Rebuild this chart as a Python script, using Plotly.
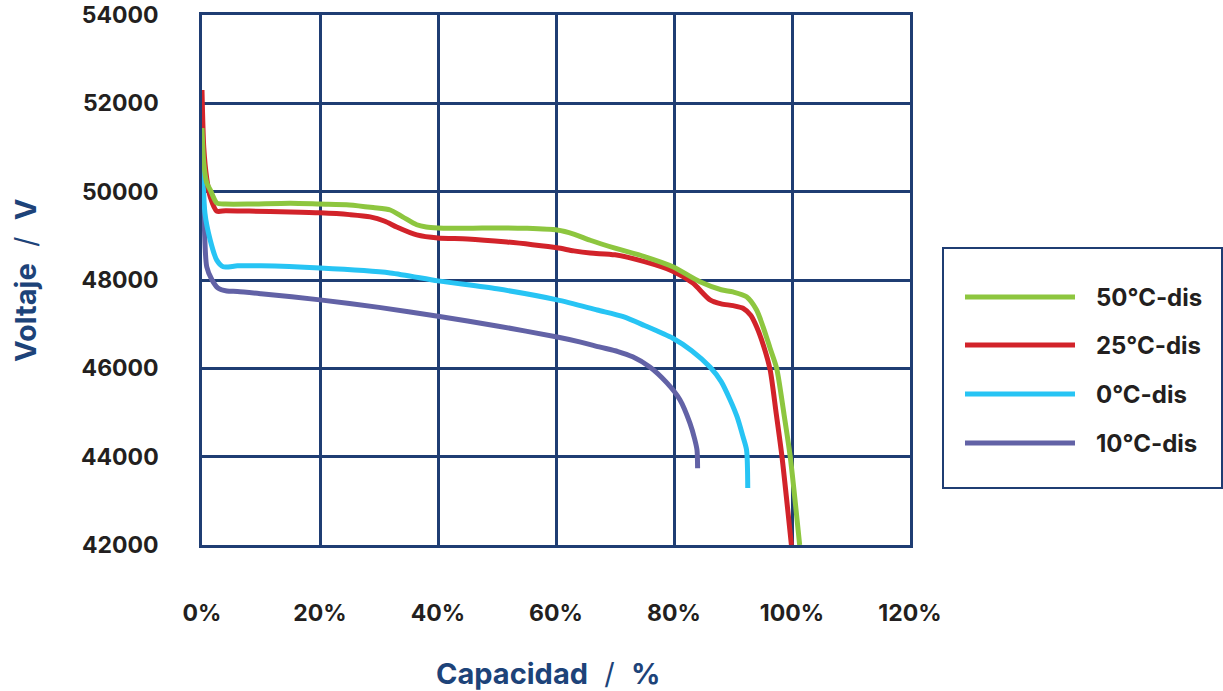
import plotly.graph_objects as go

# ---- data ----
cap_50 = [0, 0.3, 0.8, 1.4, 2.5, 4, 8, 15, 20, 25, 29, 31.9, 34, 36.4, 38, 40, 45, 50, 55, 60.2, 63, 65.8,
          70, 75, 79.8, 84.4, 88, 90, 92.3, 94, 95.1, 96.3, 97.4, 98.6, 99.7, 101.3]
v_50 = [51440, 50650, 50200, 50040, 49744, 49720, 49720, 49740, 49720, 49700, 49640, 49585, 49430, 49250,
        49200, 49180, 49170, 49180, 49170, 49130, 49040, 48900, 48720, 48530, 48300, 47960, 47780, 47730,
        47620, 47320, 46940, 46450, 46000, 45000, 44000, 42000]

cap_25 = [0, 0.3, 0.8, 1.4, 2.5, 4, 8, 15, 20, 25, 28.5, 31, 33, 36.4, 40, 45, 51.7, 56, 60.2, 63, 65.8,
          70, 75, 79.8, 83.2, 86.1, 88, 90, 91.7, 93, 94, 95.2, 96.3, 97.3, 98.3, 99.9]
v_25 = [52300, 51000, 50300, 49880, 49560, 49570, 49560, 49540, 49520, 49480, 49430, 49330, 49200, 49020,
        48950, 48930, 48860, 48800, 48730, 48660, 48610, 48570, 48415, 48200, 47930, 47550, 47460, 47420,
        47360, 47200, 46940, 46500, 45960, 45000, 44000, 42000]

cap_0 = [0, 0.5, 1.4, 2.5, 3.6, 6, 10, 20, 31.9, 40, 50, 60.2, 67, 71.4, 75, 79.8, 83, 86.1, 88, 89.5,
         90.7, 91.7, 92.3, 92.5]
v_0 = [51400, 49510, 48900, 48450, 48300, 48320, 48320, 48270, 48160, 47980, 47800, 47550, 47320, 47170,
       46970, 46680, 46400, 46030, 45700, 45290, 44900, 44450, 44150, 43290]

cap_10 = [0, 0.4, 0.8, 1.7, 2.7, 4.2, 6, 10, 20, 30, 40, 50, 60.2, 64, 67.5, 70.5, 73, 75.9, 78.8, 81,
          82.7, 83.5, 83.9, 84.0]
v_10 = [50600, 49200, 48300, 48000, 47820, 47750, 47740, 47690, 47550, 47380, 47180, 46960, 46710, 46600,
        46480, 46380, 46260, 46030, 45670, 45290, 44760, 44400, 44150, 43740]

series_names = ["50°C-dis", "25°C-dis", "0°C-dis", "10°C-dis"]
series_colors = ["#8dc63f", "#d2232a", "#27c4f4", "#6262a6"]
series_x = [cap_50, cap_25, cap_0, cap_10]
series_y = [v_50, v_25, v_0, v_10]

x_ticks = [0, 20, 40, 60, 80, 100, 120]
x_tick_labels = ["0%", "20%", "40%", "60%", "80%", "100%", "120%"]
y_ticks = [42000, 44000, 46000, 48000, 50000, 52000, 54000]

GRID = "#1f3d73"
TXT = "#231f20"
NAVY = "#1d4379"
FONT = "Inter"

fig = go.Figure()
for name, color, xs, ys in reversed(list(zip(series_names, series_colors, series_x, series_y))):
    fig.add_trace(go.Scatter(x=xs, y=ys, mode="lines", name=name,
                             line=dict(color=color, width=5, shape="spline", smoothing=0.7),
                             showlegend=False))

W, H = 1223, 691
L, R, T, B = 202, 910, 15, 545
pw, ph = R - L, B - T

def px(x):
    return (x - L) / pw

def py(y):
    return (B - y) / ph

shapes = [dict(type="rect", xref="paper", yref="paper", x0=px(943), x1=px(1222), y0=py(488), y1=py(248),
               line=dict(color=GRID, width=2), fillcolor="white", layer="above")]
annotations = []
leg_y = [297, 345, 394, 443]
for name, color, ly in zip(series_names, series_colors, leg_y):
    shapes.append(dict(type="line", xref="paper", yref="paper", x0=px(965), x1=px(1075), y0=py(ly), y1=py(ly),
                       line=dict(color=color, width=5), layer="above"))
    annotations.append(dict(xref="paper", yref="paper", x=px(1094), y=py(ly), text="<b>%s</b>" % name,
                            showarrow=False, xanchor="left", yanchor="middle",
                            font=dict(family=FONT, size=24, color=TXT)))

annotations.append(dict(xref="paper", yref="paper", x=px(25), y=py(281),
                        text="<b>Voltaje</b>&nbsp;&nbsp;/&nbsp;&nbsp;<b>V</b>",
                        textangle=-90, showarrow=False, xanchor="center", yanchor="middle",
                        font=dict(family=FONT, size=29, color=NAVY)))
annotations.append(dict(xref="paper", yref="paper", x=px(548), y=py(673),
                        text="<b>Capacidad</b>&nbsp;&nbsp;/&nbsp;&nbsp;<b>%</b>",
                        showarrow=False, xanchor="center", yanchor="middle",
                        font=dict(family=FONT, size=29, color=NAVY)))

fig.update_layout(
    width=W, height=H,
    margin=dict(l=L, r=W - R, t=T, b=H - B, autoexpand=False),
    paper_bgcolor="white", plot_bgcolor="white",
    shapes=shapes, annotations=annotations,
    xaxis=dict(range=[0, 120], tickvals=x_ticks, ticktext=x_tick_labels, showgrid=True,
               gridcolor=GRID, gridwidth=2.5, showline=True, linecolor=GRID, linewidth=2.5, mirror=True,
               zeroline=False, ticks="", ticklabelstandoff=46,
               tickfont=dict(family=FONT, size=23, color=TXT, weight="bold")),
    yaxis=dict(range=[42000, 54000], tickvals=y_ticks, showgrid=True, tickformat="d",
               gridcolor=GRID, gridwidth=2.5, showline=True, linecolor=GRID, linewidth=2.5, mirror=True,
               zeroline=False, ticks="", ticklabelstandoff=36, ticklabeloverflow="allow",
               tickfont=dict(family=FONT, size=23, color=TXT, weight="bold")),
    showlegend=False,
)

fig.write_html("out.html", config={"displayModeBar": False},
               post_script="document.body.style.margin='0';")
